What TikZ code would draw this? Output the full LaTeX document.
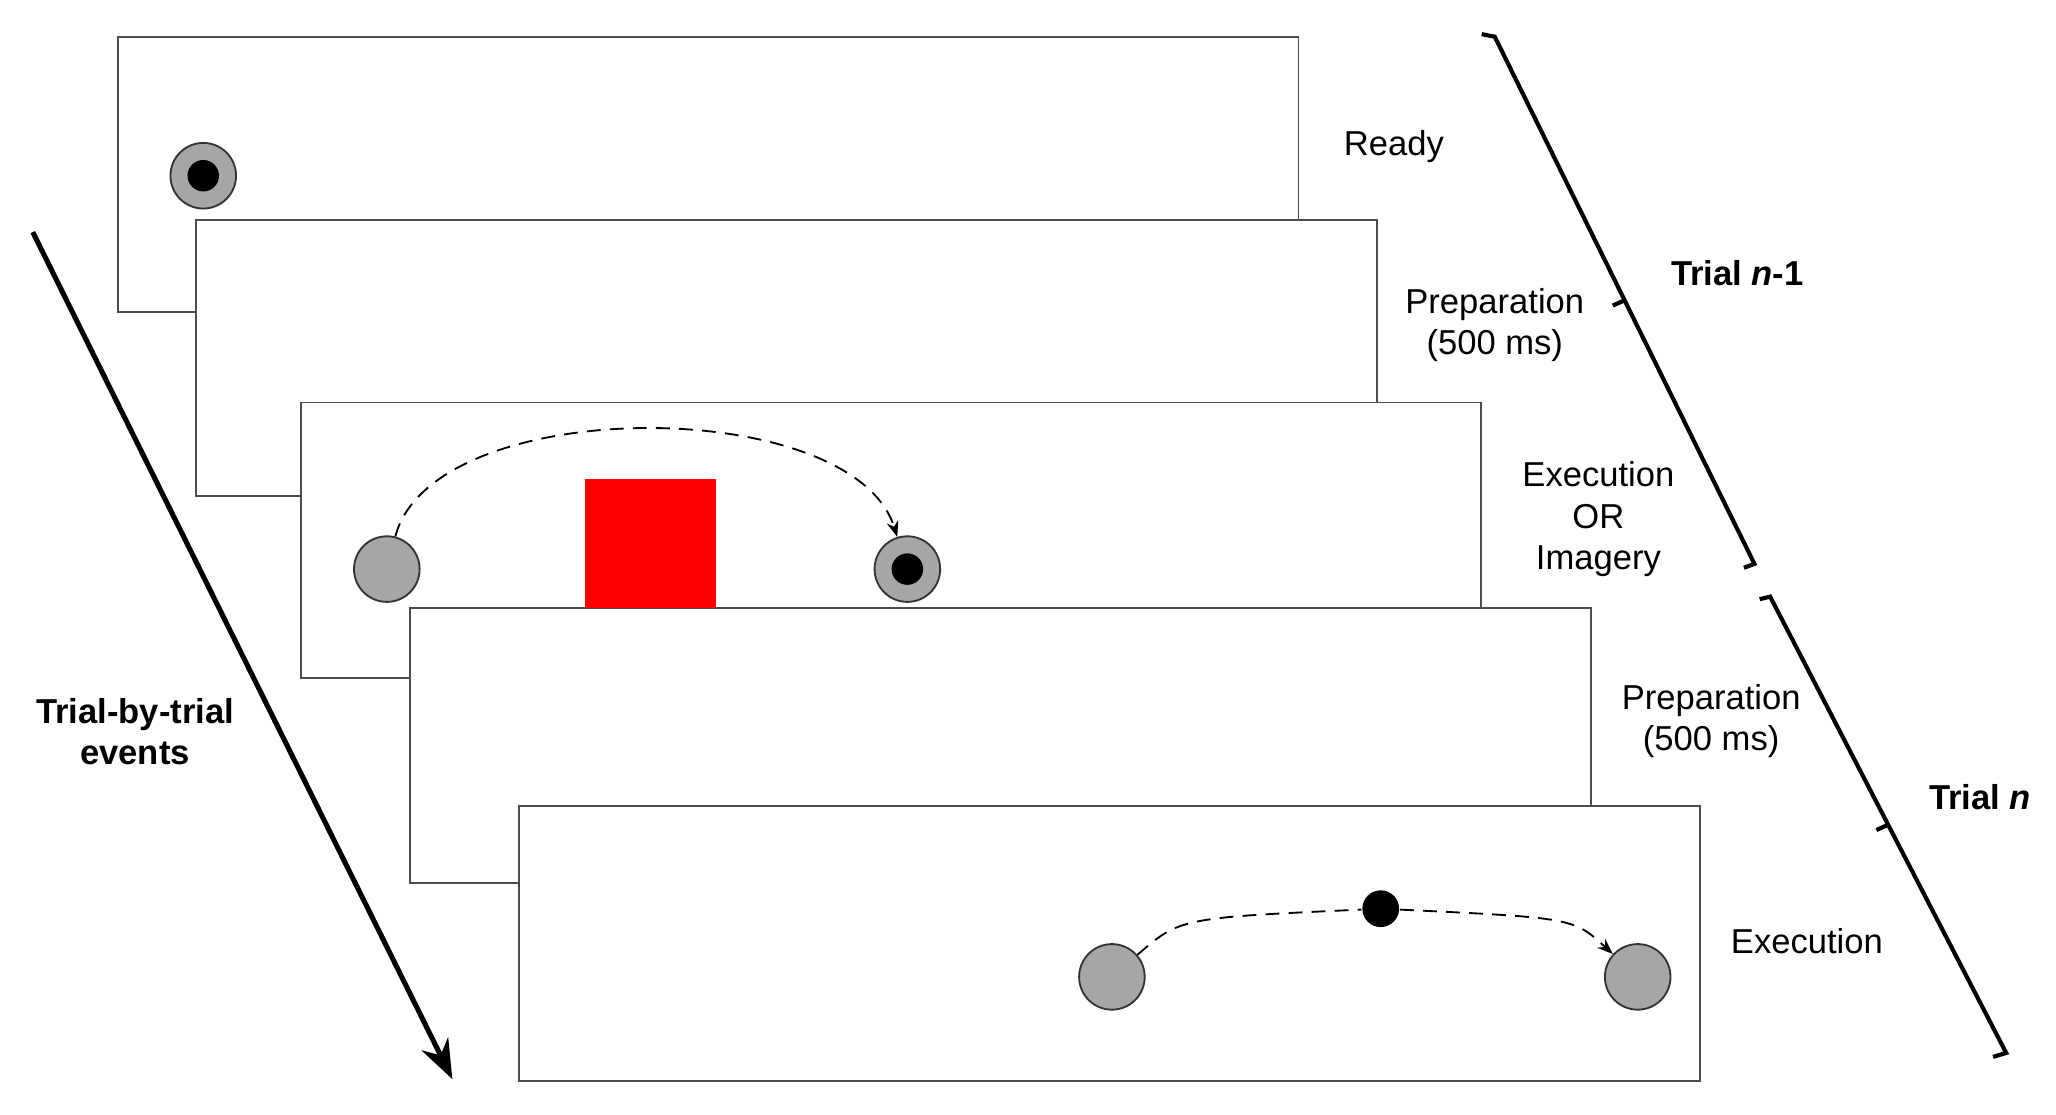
\documentclass[tikz,border=0pt]{standalone}
\usepackage{fontspec}
\setmainfont{Liberation Sans}
\usetikzlibrary{positioning}
\usetikzlibrary{arrows.meta}
\usetikzlibrary{calc}

\begin{document}
\begin{tikzpicture}[x=0.01cm, y=-0.01cm,
    screen/.style = {draw = black!70, fill = white, line width = 0.4pt, minimum width = 9cm, minimum height = 2.1cm, inner sep = 0pt},
    start/.style = {circle, draw = black!80, fill = black!35, minimum size = 0.5cm, inner sep = 0pt},
    dot/.style = {circle, fill = black, minimum size = 0.24cm, inner sep = 0pt},
    cue/.style = {circle, fill = black, minimum size = 0.28cm, inner sep = 0pt},
    phase/.style = {font = \fontsize{7.5}{9}\selectfont, align = center},
    trial/.style = {font = \bfseries\fontsize{7.5}{9}\selectfont, align = center},
    path/.style = {densely dashed, line width = 0.4pt, -{Stealth[length=1.2mm]}},
    brace/.style = {line width = 0.9pt},
    ]
    \useasboundingbox (0,0) rectangle (1568,850);
    \begin{scope}
    \clip (0,28) rectangle (1568,850);
    \node[screen] (ready) at (540,133) {};
    \end{scope}
    \node[screen] (prep1) at (600,273) {};
    \node[screen] (exec1) at (679.5,412) {};
    \node[screen] (prep2) at (763,568.5) {};
    \node[screen] (exec2) at (846,719.5) {};

    % ready screen
    \node[start] (r0) at (155,134) {};
    \node[dot] at (r0) {};

    % execution or imagery screen
    \fill[red] (446,365) rectangle (546,464);
    \node[start] (a0) at (295,434) {};
    \node[start] (a1) at (692,434) {};
    \node[dot] at (a1) {};
    \draw[path] (a0) .. controls (330,300) and (650,300) .. (a1);

    % execution screen
    \node[start] (b0) at (848,745) {};
    \node[start] (b1) at (1249,745) {};
    \node[cue] (bc) at (1053,693) {};
    \draw[densely dashed, line width = 0.4pt] (b0) .. controls (900,700) .. (bc);
    \draw[path] (bc) .. controls (1200,700) .. (b1);

    % phase labels
    \node[phase] at (1063,112) {Ready};
    \node[phase] at (1140,248) {Preparation\\(500 ms)};
    \node[phase] at (1219,396) {Execution\\OR\\Imagery};
    \node[phase] at (1305,550) {Preparation\\(500 ms)};
    \node[phase] at (1378,718) {Execution};

    % trial brackets
    \coordinate (t1a) at (1140,28);
    \coordinate (t1b) at (1338,430);
    \draw[brace] (1130,26) -- (t1a) -- (t1b) -- (1330,433);
    \draw[brace] ($(t1a)!0.5!(t1b)$) -- ++(-9,4);
    \node[trial] at (1325,208) {Trial \textit{n}-1};
    \coordinate (t2a) at (1350,455);
    \coordinate (t2b) at (1530,803);
    \draw[brace] (1342,457) -- (t2a) -- (t2b) -- (1520,806);
    \draw[brace] ($(t2a)!0.5!(t2b)$) -- ++(-9,4);
    \node[trial] at (1510,608) {Trial \textit{n}};

    % time arrow
    \coordinate (ta) at (25,177);
    \coordinate (tb) at (345,823);
    \draw[line width = 1.1pt, -{Stealth[length=3mm]}] (ta) -- (tb);
    \node[trial] at (103,558) {Trial-by-trial\\events};
\end{tikzpicture}
\end{document}
